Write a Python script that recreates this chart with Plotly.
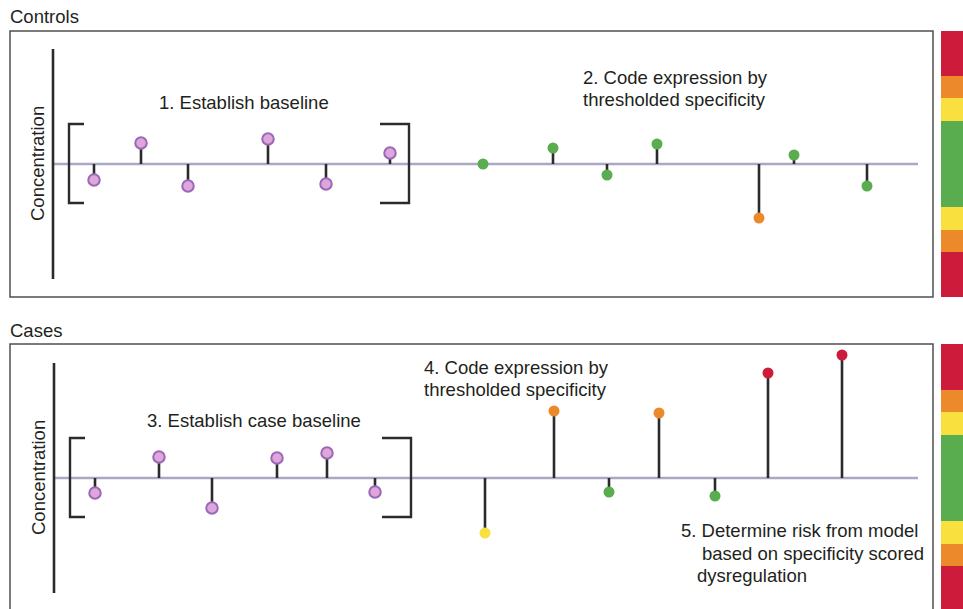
import plotly.graph_objects as go

# ---------------- data ----------------
# sample positions along the time/sample axis and concentration relative to baseline
ctrl_base_x = [94, 141, 188, 268, 326, 390]
ctrl_base_v = [-1.6, 2.1, -2.2, 2.5, -2.0, 1.1]
ctrl_code_x = [483, 553, 607, 657, 759, 794, 867]
ctrl_code_v = [0.0, 1.6, -1.1, 2.0, -5.4, 0.9, -2.2]
ctrl_code_c = ["green", "green", "green", "green", "orange", "green", "green"]

case_base_x = [95, 159, 212, 277, 327, 375]
case_base_v = [-1.5, 2.1, -3.0, 2.0, 2.5, -1.4]
case_code_x = [485, 554, 609, 659, 715, 768, 842]
case_code_v = [-5.5, 6.7, -1.4, 6.5, -1.8, 10.5, 12.3]
case_code_c = ["yellow", "orange", "green", "orange", "green", "red", "red"]

# specificity thresholds (|concentration|): green < t1 < yellow < t2 < orange < t3 < red
thresholds = [4.3, 6.6, 8.8]

COL = {"green": "#5aad4e", "yellow": "#f9e03f", "orange": "#ec8a2b", "red": "#cc1b3b"}
STEM = "#2b2b2b"
FONT = "Liberation Sans, Arial, sans-serif"
TXT = "#231f20"

W, H = 963, 609
xdom = [10 / W, 933 / W]
ydom_top = [1 - 297 / H, 1 - 31 / H]
ydom_bot = [0, 1 - 344 / H]
yr_top = [-13.3, 13.3]
yr_bot = [-13.1, 13.4]

fig = go.Figure()


def stems(xs, vs):
    sx, sy = [], []
    for x, v in zip(xs, vs):
        sx += [x, x, None]
        sy += [0, v, None]
    return sx, sy


def add_panel(bx, bv, cx, cv, cc, xa, ya):
    sx, sy = stems(bx + cx, bv + cv)
    fig.add_trace(go.Scatter(x=sx, y=sy, mode="lines", xaxis=xa, yaxis=ya,
                             line=dict(color=STEM, width=2.6), hoverinfo="skip",
                             showlegend=False))
    fig.add_trace(go.Scatter(x=bx, y=bv, mode="markers", xaxis=xa, yaxis=ya,
                             marker=dict(size=11.5, color="#dea6db",
                                         line=dict(color="#9a68b6", width=2)),
                             showlegend=False))
    fig.add_trace(go.Scatter(x=cx, y=cv, mode="markers", xaxis=xa, yaxis=ya,
                             marker=dict(size=11, color=[COL[c] for c in cc]),
                             showlegend=False))


add_panel(ctrl_base_x, ctrl_base_v, ctrl_code_x, ctrl_code_v, ctrl_code_c, "x", "y")
add_panel(case_base_x, case_base_v, case_code_x, case_code_v, case_code_c, "x2", "y2")

shapes = []
for yref, xref, yr, bottom_open, bx0, bx1 in [
    ("y", "x", yr_top, False, 69, 409),
    ("y2", "x2", yr_bot, True, 70, 411),
]:
    # baseline (drawn below stems)
    shapes.append(dict(type="line", xref=xref, yref=yref, x0=53, x1=918, y0=0, y1=0,
                       line=dict(color="#aba8c6", width=2.6), layer="below"))
    # vertical concentration axis
    shapes.append(dict(type="line", xref=xref, yref=yref, x0=bx0 - 16, x1=bx0 - 16,
                       y0=-11.5, y1=11.5, line=dict(color=STEM, width=2.6)))
    # brackets
    shapes.append(dict(type="path", xref=xref, yref=yref,
                       path=f"M {bx0+15},4.0 L {bx0},4.0 L {bx0},-3.9 L {bx0+15},-3.9",
                       line=dict(color=STEM, width=2.4)))
    shapes.append(dict(type="path", xref=xref, yref=yref,
                       path=f"M {bx1-29},4.0 L {bx1},4.0 L {bx1},-3.9 L {bx1-29},-3.9",
                       line=dict(color=STEM, width=2.4)))
    # frame
    dref_x = xref + " domain"
    dref_y = yref + " domain"
    if bottom_open:
        path = "M 0,0 L 0,1 L 1,1 L 1,0"
    else:
        path = "M 0,0 L 0,1 L 1,1 L 1,0 Z"
    shapes.append(dict(type="path", xref=dref_x, yref=dref_y, path=path,
                       line=dict(color="#505050", width=1.5)))
    # colour bar of specificity thresholds
    t1, t2, t3 = thresholds
    bands = [(yr[0], -t3, "red"), (-t3, -t2, "orange"), (-t2, -t1, "yellow"),
             (-t1, t1, "green"), (t1, t2, "yellow"), (t2, t3, "orange"), (t3, yr[1], "red")]
    for y0, y1, c in bands:
        shapes.append(dict(type="rect", xref="paper", yref=yref, x0=941 / W, x1=1.0,
                           y0=y0, y1=y1, fillcolor=COL[c], line=dict(width=0)))

ann = []


def txt(text, x, y, xref, yref, **kw):
    d = dict(text=text, x=x, y=y, xref=xref, yref=yref, showarrow=False,
             xanchor="left", yanchor="middle", align="left",
             font=dict(family=FONT, size=18.5, color=TXT))
    d.update(kw)
    ann.append(d)


txt("Controls", 8 / W, 1 - 17 / H, "paper", "paper")
txt("Cases", 8 / W, 1 - 330 / H, "paper", "paper")
txt("Concentration", 37 / W, 0, "paper", "y", textangle=-90, xanchor="center")
txt("Concentration", 38 / W, 0, "paper", "y2", textangle=-90, xanchor="center")
txt("1. Establish baseline", 157, 6.2, "x", "y")
txt("2. Code expression by", 581, 8.7, "x", "y")
txt("thresholded specificity", 581, 6.5, "x", "y")
txt("3. Establish case baseline", 145, 5.8, "x2", "y2")
txt("4. Code expression by", 422, 11.1, "x2", "y2")
txt("thresholded specificity", 422, 8.9, "x2", "y2")
txt("5. Determine risk from model", 679, -5.2, "x2", "y2")
txt("based on specificity scored", 700, -7.5, "x2", "y2")
txt("dysregulation", 695, -9.7, "x2", "y2")

ax_common = dict(showgrid=False, zeroline=False, showticklabels=False, ticks="",
                 showline=False)
fig.update_layout(
    width=W, height=H, margin=dict(l=0, r=0, t=0, b=0),
    paper_bgcolor="white", plot_bgcolor="white",
    xaxis=dict(domain=xdom, range=[10, 933], anchor="y", **ax_common),
    yaxis=dict(domain=ydom_top, range=yr_top, anchor="x", **ax_common),
    xaxis2=dict(domain=xdom, range=[10, 933], anchor="y2", **ax_common),
    yaxis2=dict(domain=ydom_bot, range=yr_bot, anchor="x2", **ax_common),
    shapes=shapes, annotations=ann, showlegend=False,
)

fig.write_html("out.html",
               config={"displayModeBar": False},
               post_script="document.body.style.margin='0';"
                           "document.body.style.overflow='hidden';")
